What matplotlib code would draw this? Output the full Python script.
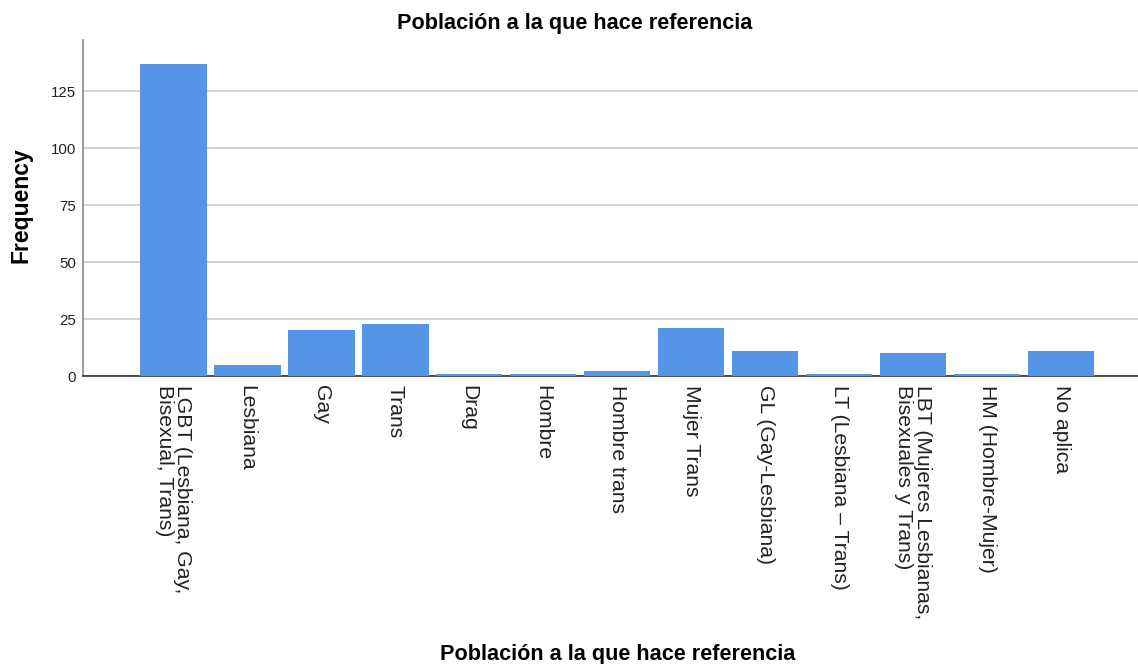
import matplotlib.pyplot as plt

categorias = ["LGBT (Lesbiana, Gay,\nBisexual, Trans)", "Lesbiana", "Gay", "Trans", "Drag",
              "Hombre", "Hombre trans", "Mujer Trans", "GL (Gay-Lesbiana)",
              "LT (Lesbiana – Trans)", "LBT (Mujeres Lesbianas,\nBisexuales y Trans)",
              "HM (Hombre-Mujer)", "No aplica"]
frecuencias = [137, 5, 20, 23, 1, 1, 2, 21, 11, 1, 10, 1, 11]
y_ticks = [0, 25, 50, 75, 100, 125]

plt.rcParams['font.family'] = ['Liberation Sans', 'DejaVu Sans']

fig = plt.figure(figsize=(11.38, 6.64), dpi=100)
ax = fig.add_axes([83 / 1138, 1 - 376 / 664, 1 - 83 / 1138, (376 - 40) / 664])

x = list(range(len(categorias)))
ax.bar(x, frecuencias, width=0.9, color='#5595e5', zorder=3)

ax.set_xlim(-1.22, 13.04)
ax.set_ylim(0, 147.4)
ax.set_yticks(y_ticks)
ax.yaxis.grid(True, color='#cfcfcf', linewidth=1.3, zorder=0)

ax.set_xticks(x)
ax.set_xticklabels(categorias, rotation=-90, fontsize=15.2, linespacing=0.95,
                   ha='center', va='top', multialignment='left', color='#222222')
ax.tick_params(axis='x', length=0, pad=6.5)
ax.tick_params(axis='y', length=0, pad=5, labelsize=10.8, labelcolor='#222222')

for s in ['top', 'right']:
    ax.spines[s].set_visible(False)
ax.spines['left'].set_color('#888888')
ax.spines['left'].set_linewidth(1.2)
ax.spines['bottom'].set_color('#333333')
ax.spines['bottom'].set_linewidth(1.2)

ax.set_ylabel("Frequency", fontsize=16.5, fontweight='bold')
ax.yaxis.set_label_coords(-0.048, 0.509)
ax.set_xlabel("Población a la que hace referencia", fontsize=15.6, fontweight='bold')
ax.xaxis.set_label_coords(0.507, -0.797)

fig.text(575 / 1138, 1 - 24 / 664, "Población a la que hace referencia",
         fontsize=15.6, fontweight='bold', ha='center', va='center')

plt.savefig('out.png')
